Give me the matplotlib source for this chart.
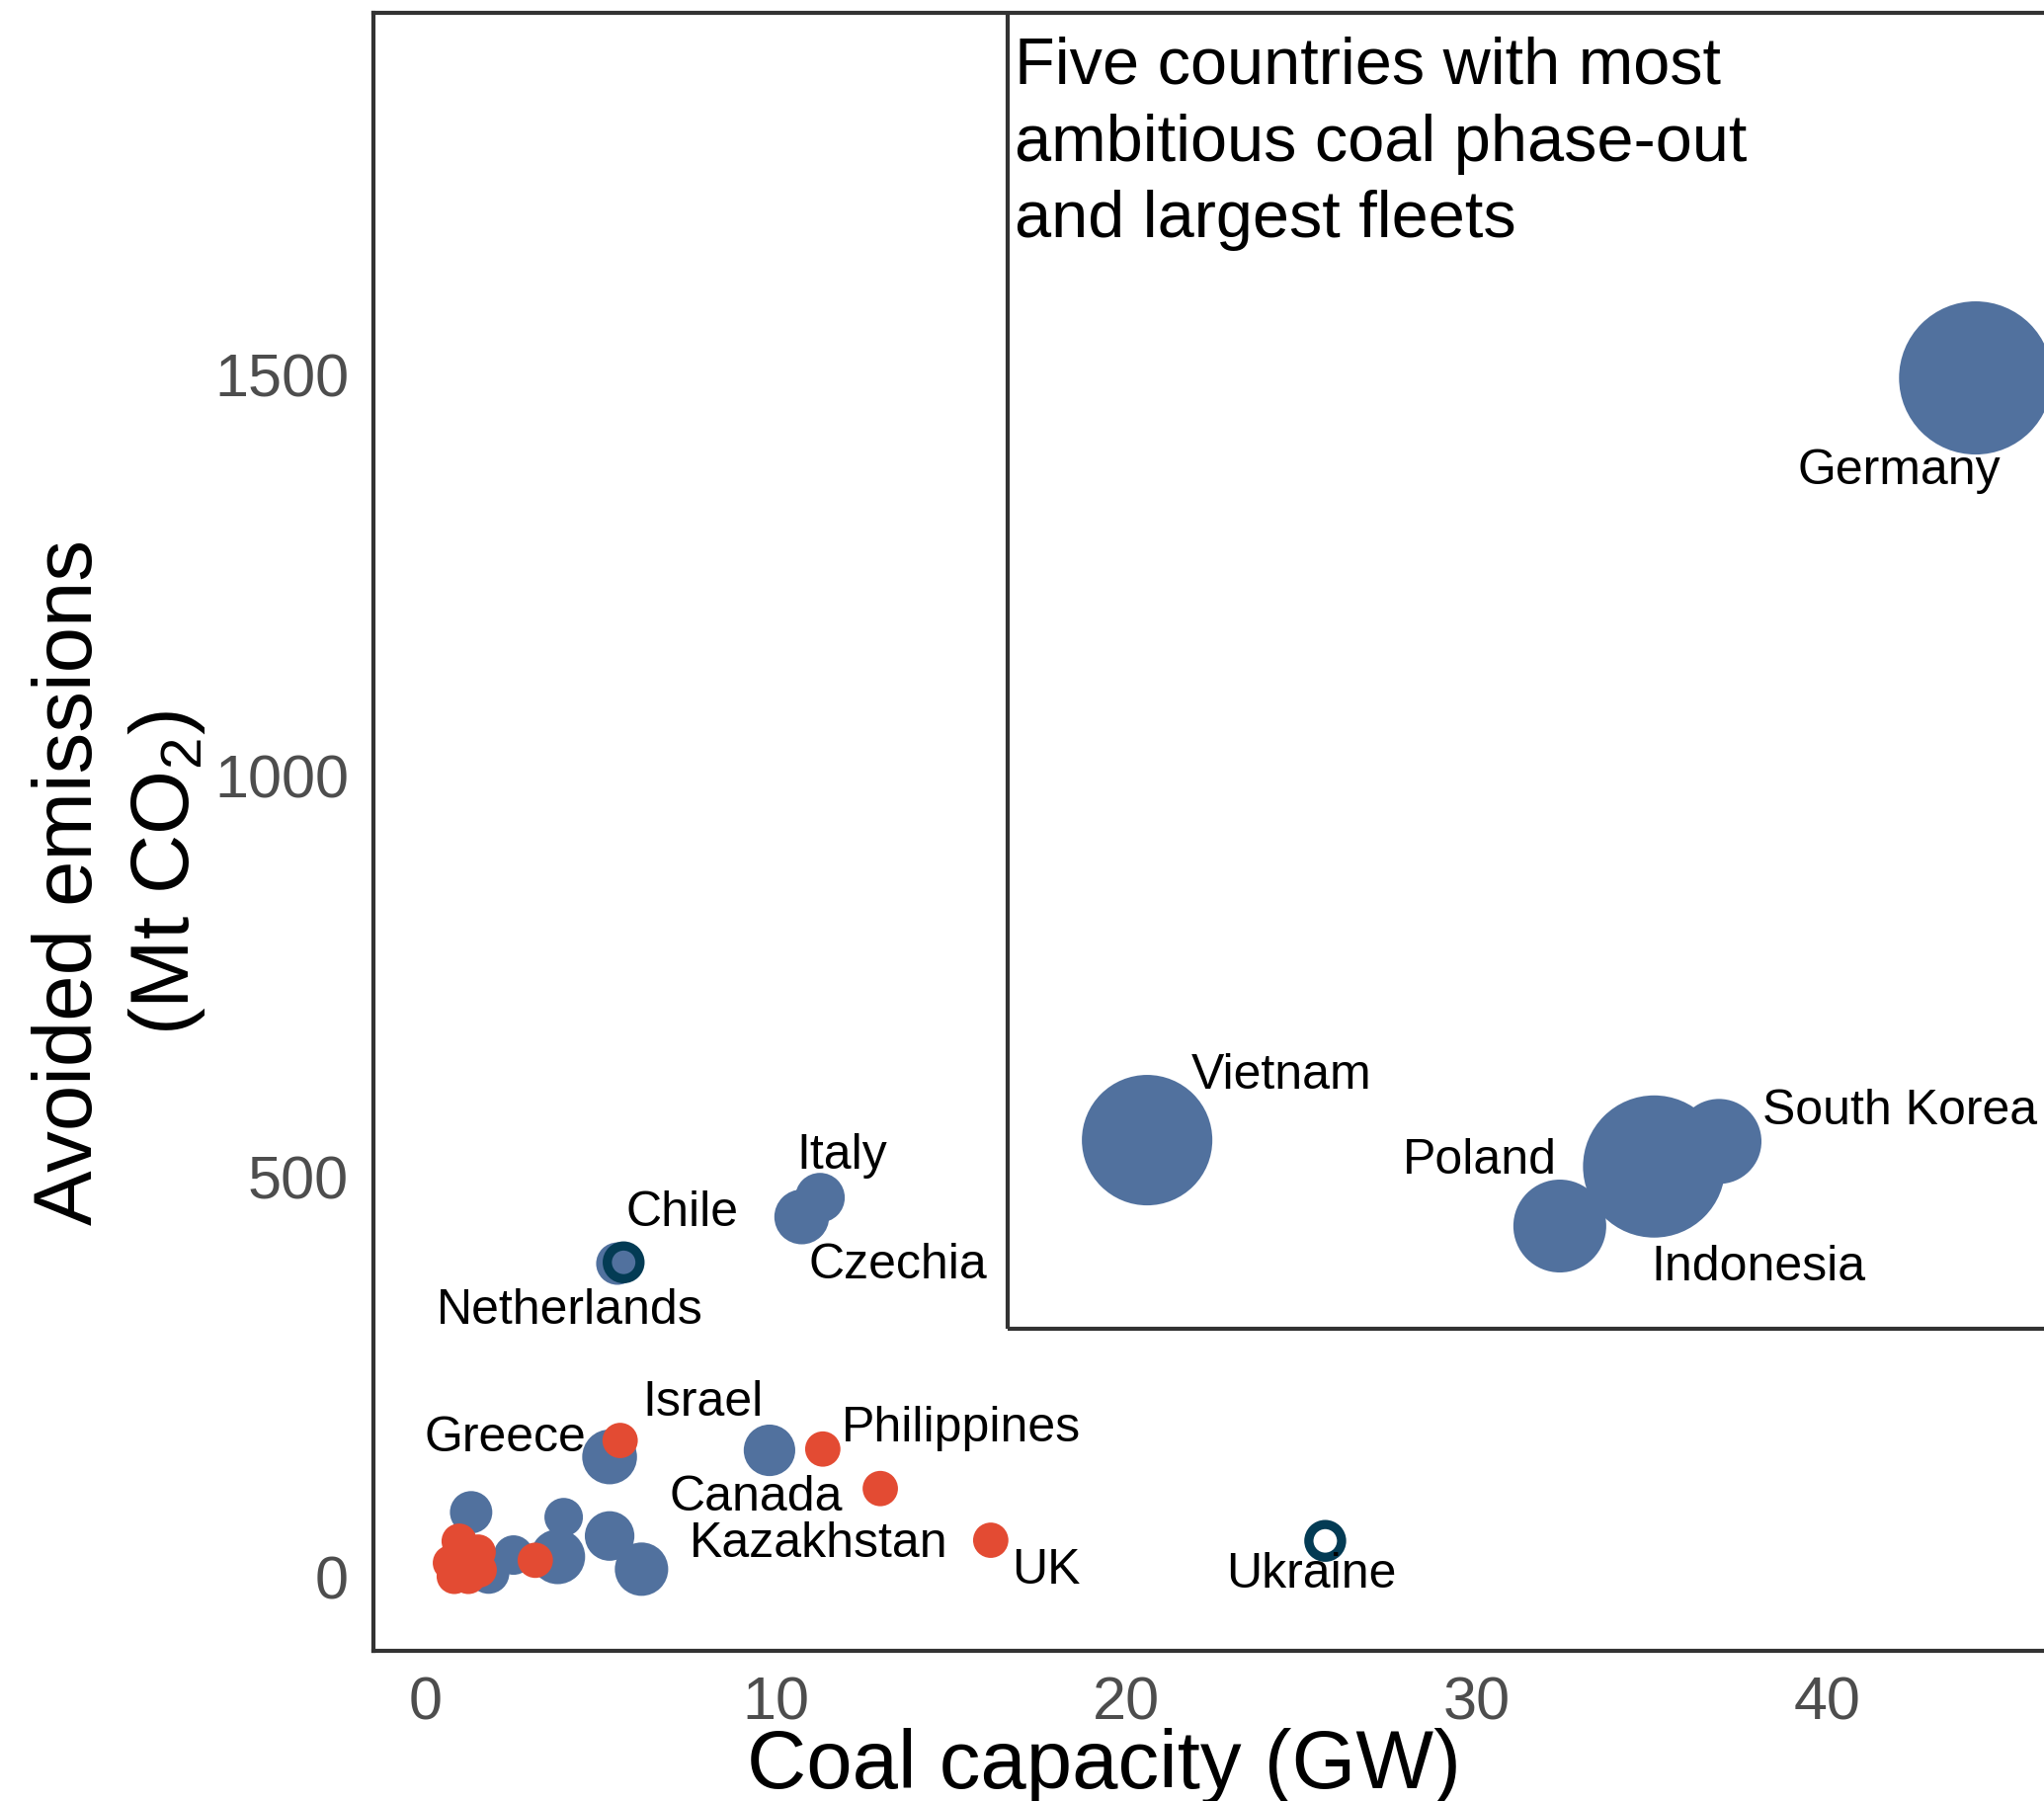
import numpy as np
import matplotlib
matplotlib.use("Agg")
import matplotlib.pyplot as plt
from matplotlib.patches import Rectangle

plt.rcParams['font.family'] = ['Liberation Sans', 'DejaVu Sans']
plt.rcParams['mathtext.fontset'] = 'custom'
plt.rcParams['mathtext.rm'] = 'Liberation Sans'
plt.rcParams['mathtext.it'] = 'Liberation Sans:italic'

# countries with a phase-out pledge (blue bubbles)
blue_names = ["Germany", "Vietnam", "Indonesia", "South Korea", "Poland", "Italy",
              "Czechia", "Chile", "Canada", "Greece", "", "", "", "", "", "", ""]
blue_gw = [44.22, 20.59, 35.05, 36.90, 32.36, 11.26, 10.74, 5.48, 9.82, 5.26,
           1.31, 3.95, 5.26, 6.17, 3.78, 2.52, 1.81]
blue_mt = [1495.6, 544.4, 511.5, 542.8, 437.2, 472.6, 448.6, 390.3, 157.3, 149.1,
           80.0, 73.9, 50.4, 9.0, 24.5, 26.6, 4.1]
blue_size = [60.1, 43.6, 51.8, 18.5, 22.1, 6.3, 7.7, 4.6, 6.8, 7.7,
             4.6, 3.8, 6.3, 7.3, 7.7, 4.0, 4.4]

# other countries (red dots)
red_names = ["Israel", "Philippines", "Kazakhstan", "UK", "", "", "", "", "", "", "", ""]
red_gw = [5.56, 11.34, 12.98, 16.13, 3.14, 0.97, 1.51, 0.72, 1.54, 0.83, 1.23, 1.12]
red_mt = [169.6, 158.9, 109.6, 45.1, 20.1, 43.9, 30.3, 16.8, 8.1, 0.0, 0.0, 23.2]
red_size = [3.2] * len(red_gw)

# highlighted countries (open rings)
ring_names = ["Netherlands", "Ukraine"]
ring_gw = [5.66, 25.67]
ring_mt = [391.9, 44.3]
ring_size = [4.5, 4.5]

# label offsets in points (text centre / baseline relative to the bubble)
label_offset = {
    "Germany": (-56, -77), "Vietnam": (98, 38), "South Korea": (132, 13),
    "Poland": (-58, 39), "Indonesia": (76, -82), "Italy": (16, 22),
    "Czechia": (70, -44), "Chile": (47, 28), "Netherlands": (-39, -44),
    "Israel": (60, 19), "Greece": (-76, 5), "Philippines": (101, 6),
    "Canada": (-10, -43), "Kazakhstan": (-45, -49), "UK": (40, -31),
    "Ukraine": (-10, -33),
}

BLUE = '#51719E'
RED = '#E34B33'
RING = '#033B54'
DARK = '#333333'

W, H = 2069, 1824
fig = plt.figure(figsize=(W / 100, H / 100), dpi=100)
ax = fig.add_axes([378 / W, 1 - 1671.5 / H, (2080 - 378) / W, (1671.5 - 14) / H])
ax.set_xlim(-1.476, 46.48)
ax.set_ylim(-92.3, 1951.2)

def area(sizes):
    # bubble_size -> marker area in pt^2
    return np.array(sizes) * 207.36

ax.add_patch(Rectangle((16.60, 308.4), 100, 5000, fill=False, ec=DARK, lw=3.0, zorder=2))

ax.scatter(blue_gw, blue_mt, s=area(blue_size), c=BLUE, linewidths=0, zorder=3)
ax.scatter(red_gw, red_mt, s=area(red_size), c=RED, linewidths=0, zorder=4)
ring_lw_px = 9.3
ring_r = np.sqrt(np.array(ring_size) * 100) - ring_lw_px / 2
ax.scatter(ring_gw, ring_mt, s=(2 * ring_r * 0.72) ** 2, facecolors='none',
           edgecolors=RING, linewidths=ring_lw_px * 0.72, zorder=5)

for names, xs, ys in [(blue_names, blue_gw, blue_mt), (red_names, red_gw, red_mt),
                      (ring_names, ring_gw, ring_mt)]:
    for n, x, y in zip(names, xs, ys):
        if not n:
            continue
        ax.annotate(n, (x, y), xytext=label_offset[n], textcoords='offset points',
                    ha='center', va='baseline', fontsize=36, color='black', zorder=6)

ax.set_xticks([0, 10, 20, 30, 40])
ax.set_yticks([0, 500, 1000, 1500])
ax.tick_params(length=0, labelsize=44, labelcolor='#4d4d4d', pad=18)
ax.spines['right'].set_visible(False)
for side in ['left', 'top', 'bottom']:
    ax.spines[side].set_linewidth(3.0)
    ax.spines[side].set_color(DARK)

box_lines = ["Five countries with most", "ambitious coal phase-out", "and largest fleets"]
for line, base in zip(box_lines, [84.5, 163, 240]):
    fig.text(1027 / W, 1 - base / H, line, ha='left', va='baseline', fontsize=48)

fig.text(93 / W, 1 - 893 / H, "Avoided emissions", rotation=90, rotation_mode='anchor',
         ha='center', va='baseline', fontsize=60)
fig.text(191 / W, 1 - 884 / H, "(Mt CO$_2$)", rotation=90, rotation_mode='anchor',
         ha='center', va='baseline', fontsize=60)
fig.text(1117 / W, 1 - 1810 / H, "Coal capacity (GW)", ha='center', va='baseline', fontsize=60)

fig.savefig('out.png', dpi=100)
